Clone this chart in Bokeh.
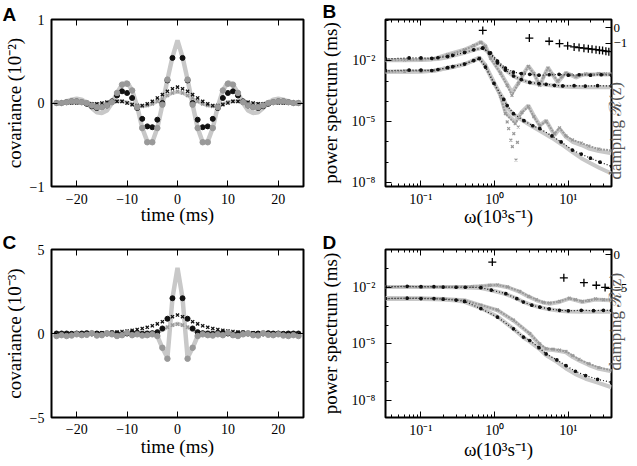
from math import pi
from bokeh.plotting import figure
from bokeh.models import (Range1d, LinearAxis, LogAxis, FixedTicker,
                          CustomJSTickFormatter, LinearScale)
from bokeh.layouts import row, column
from bokeh.embed import file_html
from bokeh.resources import INLINE

SERIF = "Liberation Serif"
SANS = "Liberation Sans"
LIGHT = "#c8c8c8"
GRAY = "#999999"
DARK = "#111111"

# ---------------- Panel A : covariance (units 1e-2) ----------------
a_t = list(range(-24, 25))
a_theory_big = [-0.01, 0.0, 0.02, 0.04, 0.05, 0.04, 0.0, -0.06, -0.11, -0.12, -0.09, 0.0, 0.12, 0.22, 0.25, 0.15, -0.04, -0.30, -0.46, -0.47, -0.30, -0.02, 0.28, 0.55,
                0.75,
                0.55, 0.28, -0.02, -0.30, -0.47, -0.46, -0.30, -0.04, 0.15, 0.25, 0.22, 0.12, 0.0, -0.09, -0.12, -0.11, -0.06, 0.0, 0.04, 0.05, 0.04, 0.02, 0.0, -0.01]
a_theory_small = [0.0, 0.0, 0.0, 0.0, 0.01, 0.0, 0.0, -0.01, -0.01, -0.01, 0.0, 0.01, 0.02, 0.02, 0.01, -0.01, -0.03, -0.04, -0.03, -0.01, 0.02, 0.05, 0.09, 0.12,
                  0.13,
                  0.12, 0.09, 0.05, 0.02, -0.01, -0.03, -0.04, -0.03, -0.01, 0.01, 0.02, 0.02, 0.01, 0.0, -0.01, -0.01, -0.01, 0.0, 0.0, 0.01, 0.0, 0.0, 0.0, 0.0]
a_gray_x = [0.01, 0.0, 0.0, 0.01, 0.01, 0.0, -0.01, -0.01, -0.02, -0.01, 0.0, 0.01, 0.02, 0.02, 0.0, -0.02, -0.03, -0.04, -0.03, -0.01, 0.02, 0.05, 0.09, 0.12,
            0.14,
            0.12, 0.09, 0.06, 0.02, -0.01, -0.03, -0.04, -0.03, -0.01, 0.01, 0.02, 0.02, 0.01, 0.0, -0.01, -0.01, -0.01, 0.0, 0.01, 0.01, 0.0, 0.0, 0.0, 0.01]
a_black_x = [0.0, 0.0, 0.0, 0.0, 0.0, 0.0, -0.01, -0.01, -0.01, 0.0, 0.01, 0.02, 0.02, 0.02, 0.0, -0.02, -0.03, -0.03, -0.01, 0.02, 0.06, 0.10, 0.14, 0.17,
             0.19,
             0.17, 0.14, 0.10, 0.06, 0.02, -0.01, -0.03, -0.03, -0.02, 0.0, 0.02, 0.02, 0.02, 0.01, 0.0, -0.01, -0.01, -0.01, 0.0, 0.0, 0.0, 0.0, 0.0, 0.0]
a_black_t = list(range(-24, 0)) + list(range(1, 25))
a_black_dot = [0.0, 0.0, 0.01, 0.02, 0.02, 0.01, -0.01, -0.04, -0.06, -0.05, -0.03, 0.02, 0.09, 0.14, 0.12, 0.06, -0.06, -0.19, -0.28, -0.29, -0.2, 0.0, 0.27, 0.54,
               0.54, 0.27, 0.0, -0.2, -0.29, -0.28, -0.19, -0.06, 0.06, 0.12, 0.14, 0.09, 0.02, -0.03, -0.05, -0.06, -0.04, -0.01, 0.01, 0.02, 0.02, 0.01, 0.0, 0.0]
a_gray_t = list(range(-24, -1)) + list(range(2, 25))
a_gray_dot = [0.0, 0.0, 0.01, 0.02, 0.02, 0.01, 0.0, -0.03, -0.05, -0.05, -0.03, 0.01, 0.12, 0.22, 0.23, 0.15, -0.05, -0.30, -0.47, -0.47, -0.30, -0.02, 0.28,
              0.28, -0.02, -0.30, -0.47, -0.47, -0.30, -0.05, 0.15, 0.23, 0.22, 0.12, 0.01, -0.03, -0.05, -0.05, -0.03, 0.0, 0.01, 0.02, 0.02, 0.01, 0.0, 0.0]

# ---------------- Panel C : covariance (units 1e-3) ----------------
c_t = list(range(-24, 25))
c_theory_big = [0.0, 0.0, 0.0, -0.01, -0.01, 0.0, 0.01, 0.02, 0.02, 0.0, -0.02, -0.04, -0.05, -0.05, -0.03, 0.0, 0.03, 0.05, 0.05, 0.0, -0.15, -0.85, -1.45, 2.1,
                3.9,
                2.1, -1.45, -0.85, -0.15, 0.0, 0.05, 0.05, 0.03, 0.0, -0.03, -0.05, -0.05, -0.04, -0.02, 0.0, 0.02, 0.02, 0.01, 0.0, -0.01, -0.01, 0.0, 0.0, 0.0]
c_theory_small = [0.0, 0.0, 0.0, 0.0, 0.0, 0.0, 0.0, 0.0, 0.0, 0.0, 0.0, 0.0, 0.0, 0.0, -0.01, -0.02, -0.03, -0.03, -0.02, 0.02, 0.08, 0.2, 0.36, 0.5,
                  0.6,
                  0.5, 0.36, 0.2, 0.08, 0.02, -0.02, -0.03, -0.03, -0.02, -0.01, 0.0, 0.0, 0.0, 0.0, 0.0, 0.0, 0.0, 0.0, 0.0, 0.0, 0.0, 0.0, 0.0, 0.0]
c_gray_x = [0.0, 0.0, 0.0, 0.0, 0.0, 0.0, 0.0, 0.0, 0.01, 0.0, 0.0, -0.01, 0.0, 0.01, 0.0, -0.02, -0.03, -0.04, -0.02, 0.03, 0.1, 0.22, 0.38, 0.5,
            0.55,
            0.5, 0.38, 0.22, 0.1, 0.03, -0.02, -0.04, -0.03, -0.02, 0.0, 0.01, 0.0, -0.01, 0.0, 0.0, 0.01, 0.0, 0.0, 0.0, 0.0, 0.0, 0.0, 0.0, 0.0]
c_black_x = [0.0, 0.0, 0.0, 0.0, 0.01, 0.01, 0.02, 0.02, 0.03, 0.04, 0.05, 0.07, 0.09, 0.12, 0.15, 0.19, 0.24, 0.3, 0.37, 0.46, 0.57, 0.7, 0.85, 1.0,
             1.1,
             1.0, 0.85, 0.7, 0.57, 0.46, 0.37, 0.3, 0.24, 0.19, 0.15, 0.12, 0.09, 0.07, 0.05, 0.04, 0.03, 0.02, 0.02, 0.01, 0.01, 0.0, 0.0, 0.0, 0.0]
c_black_t = list(range(-24, 0)) + list(range(1, 25))
c_black_dot = [0.0, 0.0, 0.0, -0.02, 0.0, 0.0, 0.02, 0.0, 0.0, -0.02, 0.0, 0.02, 0.0, -0.05, 0.0, 0.05, 0.02, -0.02, 0.0, 0.02, 0.08, 0.3, 0.88, 2.1,
               2.1, 0.88, 0.3, 0.08, 0.02, 0.0, -0.02, 0.02, 0.05, 0.0, -0.05, 0.0, 0.02, 0.0, -0.02, 0.0, 0.0, 0.02, 0.0, 0.0, -0.02, 0.0, 0.0, 0.0]
c_gray_t = list(range(-24, -1)) + list(range(2, 25))
c_gray_dot = [-0.15, -0.1, -0.15, -0.12, -0.05, -0.1, -0.08, 0.02, -0.12, -0.1, 0.0, -0.05, -0.15, -0.1, 0.05, -0.1, -0.05, -0.12, -0.1, -0.05, -0.15, -0.85, -1.5,
              -1.5, -0.85, -0.15, -0.05, -0.1, -0.12, -0.05, -0.1, 0.05, -0.1, -0.15, -0.05, 0.0, -0.1, -0.12, 0.02, -0.08, -0.1, -0.05, -0.12, -0.15, -0.1, -0.15]

# ---------------- Panel B : power spectra (omega in 1e3/s, log10 of power) ----------------
b_w_up_osc = [0.033, 0.06, 0.1, 0.15, 0.23, 0.39, 0.52, 0.65, 0.75, 0.88, 1.2, 1.48, 1.72, 2.1, 2.5, 2.87, 3.4, 4.1, 4.6, 5.3, 6.2, 7.2, 8.2, 9.3, 11.0, 12.7, 15.0, 17.3, 21.0, 26.0, 32.0, 38.6]
b_lg_up_osc_theory = [-1.96, -1.96, -1.95, -1.9, -1.68, -1.44, -1.25, -1.06, -1.25, -1.84, -2.58, -3.15, -3.55, -3.1, -2.6, -2.25, -2.6, -3.23, -2.8, -2.33, -2.7, -3.06, -2.8, -2.58, -2.7, -2.82, -2.7, -2.66, -2.68, -2.64, -2.67, -2.66]
b_lg_up_osc_data = [-1.97, -1.95, -1.94, -1.88, -1.7, -1.45, -1.24, -1.08, -1.27, -1.86, -2.6, -3.2, -3.7, -3.1, -2.62, -2.27, -2.62, -3.2, -2.78, -2.35, -2.68, -3.0, -2.78, -2.6, -2.68, -2.78, -2.68, -2.64, -2.66, -2.62, -2.64, -2.63]
b_w_up_smooth = [0.033, 0.069, 0.1, 0.14, 0.17, 0.23, 0.27, 0.39, 0.52, 0.69, 0.85, 1.09, 1.4, 1.81, 2.3, 3.0, 4.0, 5.0, 6.5, 8.4, 12.0, 17.0, 25.0, 38.6]
b_lg_up_smooth_theory = [-1.95, -1.95, -1.94, -1.92, -1.9, -1.82, -1.75, -1.6, -1.45, -1.35, -1.6, -2.08, -2.45, -2.75, -2.93, -3.07, -3.13, -3.17, -3.22, -3.26, -3.28, -3.3, -3.3, -3.3]
b_lg_up_smooth_black = [-1.9, -1.85, -1.85, -1.87, -1.84, -1.78, -1.72, -1.58, -1.45, -1.36, -1.62, -2.09, -2.45, -2.74, -2.92, -3.06, -3.12, -3.15, -3.2, -3.23, -3.22, -3.24, -3.22, -3.23]
b_w_up_black2 = [0.69, 0.88, 1.09, 1.4, 1.8, 2.3, 3.0, 4.0, 5.5, 7.5, 10.0, 14.0, 20.0, 28.0, 38.6]
b_lg_up_black2 = [-1.36, -1.6, -2.0, -2.35, -2.55, -2.62, -2.66, -2.7, -2.68, -2.66, -2.7, -2.68, -2.7, -2.68, -2.7]
b_w_lo_osc = [0.033, 0.06, 0.1, 0.15, 0.23, 0.39, 0.52, 0.62, 0.75, 0.98, 1.2, 1.4, 1.9, 2.35, 2.87, 3.4, 4.1, 5.0, 6.5, 7.6, 9.3, 11.4, 15.0, 19.0, 26.0, 38.6]
b_lg_lo_osc_theory = [-2.53, -2.53, -2.52, -2.48, -2.33, -2.17, -1.95, -1.83, -2.2, -3.06, -3.7, -4.53, -5.01, -4.5, -4.2, -4.7, -5.18, -4.94, -5.67, -5.34, -5.75, -5.99, -6.15, -6.32, -6.45, -6.56]
b_lg_lo_osc_data = [-2.55, -2.5, -2.5, -2.47, -2.35, -2.15, -1.97, -1.85, -2.22, -3.1, -3.75, -4.6, -5.1, -4.55, -4.25, -4.75, -5.2, -4.98, -5.6, -5.3, -5.7, -5.9, -6.05, -6.2, -6.35, -6.42]
b_w_lo_dip = [1.48, 2.09, 1.55, 1.82, 1.66, 2.04, 1.74, 1.95]
b_lg_lo_dip = [-5.01, -5.26, -5.34, -5.59, -5.91, -6.02, -6.23, -6.89]
b_w_lo_smooth = [0.033, 0.069, 0.1, 0.14, 0.17, 0.23, 0.27, 0.39, 0.52, 0.62, 0.75, 0.98, 1.33, 1.48, 1.8, 2.5, 3.3, 4.1, 6.0, 8.0, 11.4, 15.0, 20.0, 27.0, 38.6]
b_lg_lo_smooth_black = [-2.48, -2.45, -2.45, -2.47, -2.42, -2.33, -2.28, -2.15, -1.98, -1.88, -2.3, -3.1, -3.9, -4.2, -4.6, -4.95, -5.2, -5.34, -5.7, -6.0, -6.4, -6.6, -6.8, -7.0, -7.2]
b_lg_lo_smooth_theory = [-2.53, -2.53, -2.52, -2.5, -2.45, -2.35, -2.3, -2.15, -1.98, -1.86, -2.25, -3.1, -3.9, -4.3, -4.62, -4.98, -5.25, -5.45, -5.8, -6.1, -6.5, -6.8, -7.05, -7.3, -7.55]
b_w_damp = [0.69, 2.96, 5.5, 7.6, 9.8, 12.0, 14.0, 16.3, 18.7, 21.0, 23.8, 26.5, 29.2, 32.4, 35.5]
b_damping = [-0.16, -0.66, -0.87, -1.02, -1.17, -1.24, -1.28, -1.32, -1.36, -1.39, -1.42, -1.45, -1.48, -1.52, -1.55]

# ---------------- Panel D ----------------
d_w_up_osc = [0.033, 0.1, 0.3, 0.5, 0.65, 0.85, 1.09, 1.5, 2.2, 2.9, 3.7, 4.6, 5.6, 7.6, 10.3, 12.5, 15.5, 19.0, 23.4, 30.0, 38.6]
d_lg_up_osc_theory = [-1.98, -1.98, -1.98, -1.97, -1.95, -1.9, -1.89, -2.0, -2.25, -2.5, -2.69, -2.82, -2.87, -2.78, -2.6, -2.68, -2.78, -2.72, -2.65, -2.68, -2.69]
d_lg_up_osc_data = [-1.97, -1.99, -1.97, -1.96, -1.94, -1.9, -1.88, -1.98, -2.22, -2.48, -2.66, -2.8, -2.84, -2.75, -2.58, -2.66, -2.75, -2.7, -2.62, -2.66, -2.66]
d_w_up_smooth = [0.033, 0.065, 0.1, 0.15, 0.2, 0.3, 0.4, 0.65, 0.9, 1.42, 2.0, 2.46, 3.2, 4.1, 5.5, 7.6, 10.0, 15.0, 22.0, 30.0, 38.6]
d_lg_up_smooth_black = [-1.98, -1.95, -1.97, -1.97, -1.99, -2.0, -2.0, -2.02, -2.15, -2.34, -2.6, -2.78, -2.95, -3.05, -3.15, -3.22, -3.25, -3.22, -3.24, -3.22, -3.23]
d_lg_up_smooth_theory = [-1.98, -1.98, -1.98, -1.98, -1.99, -2.0, -2.01, -2.04, -2.16, -2.36, -2.6, -2.78, -2.95, -3.06, -3.17, -3.25, -3.28, -3.3, -3.3, -3.3, -3.3]
d_w_lo_osc = [0.033, 0.1, 0.2, 0.39, 0.65, 1.09, 1.8, 3.0, 4.1, 5.0, 6.2, 7.6, 9.3, 11.5, 14.0, 19.0, 26.0, 38.6]
d_lg_lo_osc_theory = [-2.57, -2.58, -2.62, -2.69, -2.96, -3.22, -3.76, -4.46, -5.05, -5.3, -5.32, -5.38, -5.45, -5.7, -5.88, -6.12, -6.32, -6.45]
d_lg_lo_osc_data = [-2.6, -2.57, -2.6, -2.7, -2.94, -3.2, -3.74, -4.45, -5.0, -5.25, -5.28, -5.33, -5.4, -5.62, -5.82, -6.05, -6.25, -6.4]
d_w_lo_smooth = [0.033, 0.065, 0.1, 0.15, 0.2, 0.3, 0.39, 0.65, 1.09, 1.8, 2.46, 3.0, 4.0, 5.0, 7.0, 9.3, 12.5, 17.2, 25.0, 38.6]
d_lg_lo_smooth_black = [-2.6, -2.58, -2.6, -2.6, -2.63, -2.68, -2.75, -3.13, -3.58, -4.2, -4.64, -4.82, -5.2, -5.53, -5.85, -6.15, -6.45, -6.68, -6.88, -7.04]
d_lg_lo_smooth_theory = [-2.62, -2.62, -2.62, -2.63, -2.65, -2.7, -2.77, -3.1, -3.55, -4.2, -4.66, -4.88, -5.25, -5.6, -5.95, -6.3, -6.6, -6.85, -7.05, -7.3]
d_w_damp = [0.93, 8.7, 16.3, 24.0, 31.6]
d_damping = [-1.12, -3.48, -4.2, -4.58, -4.9]

# tick positions / labels
cov_xticks = [-20, -10, 0, 10, 20]
spec_xticks = [0.1, 1, 10]
spec_yticks = [1e-8, 1e-5, 1e-2]
damp_label = "damping \u211b(z)"


def pw(lg):
    return [10.0 ** v for v in lg]


def minus_fmt():
    return CustomJSTickFormatter(code="return tick < 0 ? '\u2212' + Math.abs(tick) : String(tick);")


def pow_fmt():
    return CustomJSTickFormatter(code="""
const e = Math.round(Math.log10(tick));
const sup = {'-': '\u207b', '0': '\u2070', '1': '\u00b9', '2': '\u00b2', '3': '\u00b3', '4': '\u2074',
             '5': '\u2075', '6': '\u2076', '7': '\u2077', '8': '\u2078', '9': '\u2079'};
return '10' + String(e).split('').map(c => sup[c]).join('');
""")


def blank_fmt():
    return CustomJSTickFormatter(code="return '';")


def style(ax, show=True, size="14px"):
    ax.axis_line_color = None
    ax.major_tick_in = 6
    ax.major_tick_out = 0
    ax.minor_tick_in = 3
    ax.minor_tick_out = 0
    ax.major_tick_line_color = "black"
    ax.minor_tick_line_color = "black"
    ax.major_label_text_font = SERIF
    ax.major_label_text_font_size = size
    ax.major_label_text_color = "black"
    ax.axis_label_text_font = SERIF
    ax.axis_label_text_font_size = "19px"
    ax.axis_label_text_font_style = "normal"
    ax.axis_label_text_color = "black"
    if not show:
        ax.formatter = blank_fmt()
        ax.major_label_text_font_size = "0px"
        ax.major_label_standoff = 0


def letter(p, txt, offset, standoff):
    t = p.title
    t.text = txt
    t.align = "left"
    t.vertical_align = "top"
    t.offset = offset
    t.standoff = standoff
    t.text_font = SANS
    t.text_font_size = "19px"
    t.text_font_style = "bold"
    t.text_color = "black"


def cov_fig(top, bottom, ymax, ylabel, letter_txt, letter_standoff, xl_standoff, xt_standoff):
    p = figure(width=316, height=233, x_range=Range1d(-25, 25), y_range=Range1d(-ymax, ymax),
               output_backend="svg", toolbar_location=None,
               min_border_left=49, min_border_right=13, min_border_top=top, min_border_bottom=bottom)
    p.outline_line_color = "black"
    p.outline_line_width = 2
    p.grid.visible = False
    xa = p.below[0]
    ya = p.left[0]
    xa.ticker = FixedTicker(ticks=cov_xticks)
    xa.formatter = minus_fmt()
    ya.ticker = FixedTicker(ticks=[-ymax, 0, ymax])
    ya.formatter = minus_fmt()
    style(xa)
    style(ya)
    xa.major_label_standoff = xt_standoff
    xa.axis_label = "time (ms)"
    xa.axis_label_standoff = xl_standoff
    ya.major_label_standoff = 7
    ya.axis_label = ylabel
    ya.axis_label_standoff = 2
    ta = LinearAxis(ticker=FixedTicker(ticks=cov_xticks))
    style(ta, False)
    p.add_layout(ta, "above")
    ra = LinearAxis(ticker=FixedTicker(ticks=[-ymax, 0, ymax]))
    style(ra, False)
    p.add_layout(ra, "right")
    letter(p, letter_txt, -49, letter_standoff)
    return p


def spec_fig(top, bottom, ylo, yhi, dlo, dhi, dticks, label_start, letter_txt, letter_standoff, xl_standoff, xt_standoff):
    p = figure(width=321, height=233, x_axis_type="log", y_axis_type="log",
               x_range=Range1d(0.033, 38.6), y_range=Range1d(ylo, yhi),
               output_backend="svg", toolbar_location=None,
               min_border_left=67, min_border_right=24, min_border_top=top, min_border_bottom=bottom)
    p.extra_y_ranges = {"damp": Range1d(dlo, dhi)}
    p.extra_y_scales = {"damp": LinearScale()}
    p.outline_line_color = "black"
    p.outline_line_width = 2
    p.grid.visible = False
    xminor = [0.04, 0.05, 0.06, 0.07, 0.08, 0.09, 0.2, 0.3, 0.4, 0.5, 0.6, 0.7, 0.8, 0.9,
              2, 3, 4, 5, 6, 7, 8, 9, 20, 30]
    yminor = [1e-9, 1e-7, 1e-6, 1e-4, 1e-3, 1e-1, 1.0]
    xa = p.below[0]
    ya = p.left[0]
    xa.ticker = FixedTicker(ticks=spec_xticks, minor_ticks=xminor)
    ya.ticker = FixedTicker(ticks=spec_yticks, minor_ticks=yminor)
    xa.formatter = pow_fmt()
    ya.formatter = pow_fmt()
    style(xa)
    style(ya)
    xa.major_label_standoff = xt_standoff
    xa.axis_label = "\u03c9(10\u00b3s\u207b\u00b9)"
    xa.axis_label_standoff = xl_standoff
    ya.major_label_standoff = 10
    ya.axis_label = "power spectrum (ms)"
    ya.axis_label_standoff = 8
    ta = LogAxis(ticker=FixedTicker(ticks=spec_xticks, minor_ticks=xminor))
    style(ta, False)
    p.add_layout(ta, "above")
    # damping axis: ticks and numbers
    ra = LinearAxis(y_range_name="damp", ticker=FixedTicker(ticks=dticks), formatter=minus_fmt())
    style(ra, True, "13px")
    ra.major_label_standoff = 2
    p.add_layout(ra, "right")
    # damping axis title, written bottom-to-top, starting at label_start
    la = LinearAxis(y_range_name="damp", ticker=FixedTicker(ticks=[label_start]),
                    formatter=CustomJSTickFormatter(code="return '" + damp_label + "';"))
    style(la, True, "17px")
    la.major_tick_in = 0
    la.minor_tick_in = 0
    la.major_label_orientation = pi / 2
    la.major_label_standoff = -15
    la.major_label_text_color = "#555555"
    p.add_layout(la, "right")
    letter(p, letter_txt, -63, letter_standoff)
    return p


def theory(p, w, lg, width=4):
    p.line(w, pw(lg), line_color=LIGHT, line_width=width)


def data(p, w, lg, color, marker, size, lw=1.2, dash="1 2"):
    y = pw(lg)
    p.line(w, y, line_color=color, line_width=lw, line_dash=dash)
    p.scatter(w, y, marker=marker, size=size, line_color=color, fill_color=color, line_width=1.2)


# ---------- A ----------
pA = cov_fig(17, 47, 1, "covariance (10\u207b\u00b2)", "A", -14, -3, 7)
pA.line(a_t, a_theory_big, line_color=LIGHT, line_width=4.5)
pA.line(a_t, a_theory_small, line_color=LIGHT, line_width=3.5)
pA.scatter(a_t, a_gray_x, marker="x", size=4.5, line_color=GRAY, line_width=1.3)
pA.scatter(a_t, a_black_x, marker="x", size=4.5, line_color=DARK, line_width=1.3)
pA.scatter(a_black_t, a_black_dot, marker="circle", size=5, line_color=DARK, fill_color=DARK)
pA.scatter(a_gray_t, a_gray_dot, marker="circle", size=5.5, line_color=GRAY, fill_color=GRAY)

# ---------- C ----------
pC = cov_fig(16, 49, 5, "covariance (10\u207b\u00b3)", "C", -10, -1, 6)
pC.line(c_t, c_theory_big, line_color=LIGHT, line_width=4.5)
pC.line(c_t, c_theory_small, line_color=LIGHT, line_width=3.5)
pC.scatter(c_t, c_gray_x, marker="x", size=4.5, line_color=GRAY, line_width=1.3)
pC.scatter(c_t, c_black_x, marker="x", size=4.5, line_color=DARK, line_width=1.3)
pC.scatter(c_black_t, c_black_dot, marker="circle", size=5, line_color=DARK, fill_color=DARK)
pC.scatter(c_gray_t, c_gray_dot, marker="circle", size=5.5, line_color=GRAY, fill_color=GRAY)

# ---------- B ----------
pB = spec_fig(19, 45, 10 ** -8.2, 10 ** 0.05, -10.35, 0.55, [0, -1], -9.9, "B", -8, -4, 5)
theory(pB, b_w_up_smooth, b_lg_up_smooth_theory)
theory(pB, b_w_lo_smooth, b_lg_lo_smooth_theory)
theory(pB, b_w_up_osc, b_lg_up_osc_theory)
theory(pB, b_w_lo_osc, b_lg_lo_osc_theory)
data(pB, b_w_up_osc, b_lg_up_osc_data, GRAY, "x", 4, lw=2, dash="2 1")
data(pB, b_w_lo_osc, b_lg_lo_osc_data, GRAY, "x", 4, lw=2, dash="2 1")
pB.scatter(b_w_lo_dip, pw(b_lg_lo_dip), marker="x", size=4, line_color=GRAY, line_width=1.2)
data(pB, b_w_up_smooth, b_lg_up_smooth_black, DARK, "circle", 2.5)
data(pB, b_w_up_black2, b_lg_up_black2, DARK, "circle", 2.5)
data(pB, b_w_lo_smooth, b_lg_lo_smooth_black, DARK, "circle", 2.5)
pB.scatter(b_w_damp, b_damping, marker="cross", size=8, line_color="black", line_width=1.3,
           y_range_name="damp")

# ---------- D ----------
pD = spec_fig(16, 49, 10 ** -8.9, 10 ** 0.0, -24.3, 0.75, [0, -5], -17.3, "D", -10, -2, 5)
theory(pD, d_w_up_smooth, d_lg_up_smooth_theory)
theory(pD, d_w_lo_smooth, d_lg_lo_smooth_theory)
theory(pD, d_w_up_osc, d_lg_up_osc_theory)
theory(pD, d_w_lo_osc, d_lg_lo_osc_theory)
data(pD, d_w_up_osc, d_lg_up_osc_data, GRAY, "x", 4, lw=2, dash="2 1")
data(pD, d_w_lo_osc, d_lg_lo_osc_data, GRAY, "x", 4, lw=2, dash="2 1")
data(pD, d_w_up_smooth, d_lg_up_smooth_black, DARK, "circle", 2.5)
data(pD, d_w_lo_smooth, d_lg_lo_smooth_black, DARK, "circle", 2.5)
pD.scatter(d_w_damp, d_damping, marker="cross", size=8, line_color="black", line_width=1.3,
           y_range_name="damp")

layout = column(row(pA, pB), row(pC, pD))
open("out.html", "w").write(file_html(layout, INLINE, "covariance and power spectra"))
